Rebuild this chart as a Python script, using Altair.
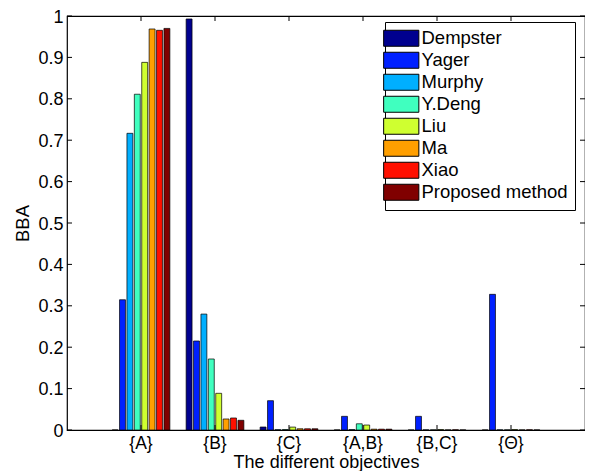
import altair as alt
import pandas as pd

categories = ["{A}", "{B}", "{C}", "{A,B}", "{B,C}", "{Θ}"]
series = ["Dempster", "Yager", "Murphy", "Y.Deng", "Liu", "Ma", "Xiao", "Proposed method"]

dempster = [0.0, 0.9928, 0.0072, 0.0, 0.0, 0.0]
yager = [0.3146, 0.2150, 0.0708, 0.0330, 0.0330, 0.3277]
murphy = [0.7166, 0.2800, 0.0006, 0.0010, 0.0003, 0.0003]
ydeng = [0.8110, 0.1715, 0.0010, 0.0150, 0.0002, 0.0002]
liu = [0.8880, 0.0886, 0.0070, 0.0120, 0.0010, 0.0010]
ma = [0.9686, 0.0266, 0.0030, 0.0020, 0.0001, 0.0001]
xiao = [0.9654, 0.0290, 0.0030, 0.0020, 0.0005, 0.0005]
proposed = [0.9700, 0.0234, 0.0030, 0.0020, 0.0001, 0.0001]

colors = ["#00008F", "#0020FF", "#00AFFF", "#40FFBF", "#CFFF30", "#FF9F00", "#FF1000", "#800000"]
y_ticks = [0, 0.1, 0.2, 0.3, 0.4, 0.5, 0.6, 0.7, 0.8, 0.9, 1.0]

all_series = [dempster, yager, murphy, ydeng, liu, ma, xiao, proposed]
rows = []
for s, vals in zip(series, all_series):
    for c, v in zip(categories, vals):
        rows.append({"cat": c, "series": s, "value": v})
df = pd.DataFrame(rows)

W, H = 518, 414
FONT = "Liberation Sans"
XT = "The different objectives"
YT = "BBA"

xscale = alt.Scale(domain=categories, paddingInner=0.2, paddingOuter=0.6)

bars = alt.Chart(df).mark_bar(stroke="black", strokeWidth=0.7).encode(
    x=alt.X("cat:N", scale=xscale, sort=categories, title=XT,
            axis=alt.Axis(labelAngle=0, ticks=False,
                          domain=False, labelFontSize=17.5, labelPadding=4,
                          labelColor="black", titleColor="black",
                          titleFontSize=18, titleFontWeight="normal",
                          titleY=37, titleBaseline="alphabetic")),
    xOffset=alt.XOffset("series:N", sort=series,
                        scale=alt.Scale(domain=series, paddingInner=0.2, paddingOuter=0.1)),
    y=alt.Y("value:Q", scale=alt.Scale(domain=[0, 1], nice=False), title=YT,
            axis=alt.Axis(values=y_ticks, format=".1~f", ticks=False,
                          domain=False, grid=False, labelFontSize=18, labelPadding=4,
                          labelOffset=1,
                          labelColor="black", titleColor="black",
                          titleFontSize=18.5, titleFontWeight="normal",
                          titleX=-45, titleY=207, titleAlign="center",
                          titleBaseline="middle")),
    color=alt.Color("series:N", sort=series,
                    scale=alt.Scale(domain=series, range=colors),
                    legend=alt.Legend(title=None, orient="none", legendX=318, legendY=6,
                                      symbolType="M-2.2,-1L2.2,-1L2.2,1L-2.2,1Z",
                                      symbolSize=256, symbolStrokeColor="black",
                                      symbolStrokeWidth=1, symbolOpacity=1,
                                      labelFontSize=18.5, labelOffset=11, labelColor="black",
                                      labelLimit=220, rowPadding=1, padding=7,
                                      strokeColor="black", fillColor="white",
                                      cornerRadius=0)),
)

tick_y = pd.DataFrame({"value": y_ticks})
tick_x = pd.DataFrame({"cat": categories})

left_ticks = alt.Chart(tick_y).mark_rule(color="black", strokeWidth=1).encode(
    y=alt.Y("value:Q", title=YT), x=alt.value(0), x2=alt.value(5))
right_ticks = alt.Chart(tick_y).mark_rule(color="black", strokeWidth=1).encode(
    y=alt.Y("value:Q", title=YT), x=alt.value(W - 5), x2=alt.value(W))
bottom_ticks = alt.Chart(tick_x).mark_rule(color="black", strokeWidth=1).encode(
    x=alt.X("cat:N", sort=categories, title=XT), y=alt.value(H), y2=alt.value(H - 5))
top_ticks = alt.Chart(tick_x).mark_rule(color="black", strokeWidth=1).encode(
    x=alt.X("cat:N", sort=categories, title=XT), y=alt.value(0), y2=alt.value(5))

chart = alt.layer(bars, left_ticks, right_ticks, bottom_ticks, top_ticks).properties(
    width=W, height=H,
    autosize=alt.AutoSizeParams(type="none"),
    padding={"left": 59, "top": 8, "right": 0, "bottom": 41},
).configure(font=FONT).configure_view(stroke="black", strokeWidth=1.2)

chart.save("out.html", embed_options={"renderer": "svg", "actions": False})
